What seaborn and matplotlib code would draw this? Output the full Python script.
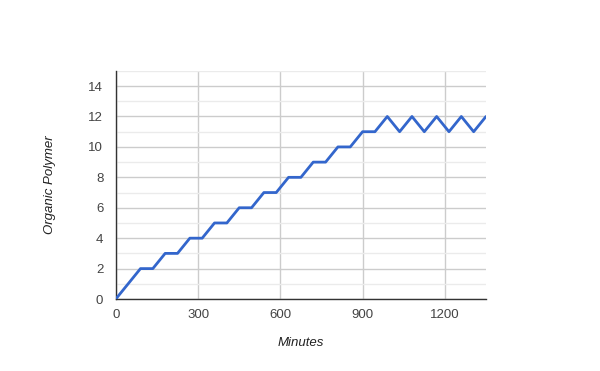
import matplotlib
matplotlib.use("Agg")
import matplotlib.pyplot as plt
import seaborn as sns
import pandas as pd
from matplotlib.ticker import MultipleLocator

minutes = [0, 45, 90, 135, 180, 225, 270, 315, 360, 405, 450, 495, 540, 585, 630, 675,
           720, 765, 810, 855, 900, 945, 990, 1035, 1080, 1125, 1170, 1215, 1260, 1305, 1350]
polymer = [0, 1, 2, 2, 3, 3, 4, 4, 5, 5, 6, 6, 7, 7, 8, 8,
           9, 9, 10, 10, 11, 11, 12, 11, 12, 11, 12, 11, 12, 11, 12]
x_ticks = [0, 300, 600, 900, 1200]
y_ticks = [0, 2, 4, 6, 8, 10, 12, 14]

df = pd.DataFrame({"Minutes": minutes, "Organic Polymer": polymer})

sns.set_theme(style="white")
plt.rcParams['font.family'] = ['Liberation Sans', 'DejaVu Sans']

fig = plt.figure(figsize=(6, 3.71), dpi=100)
ax = fig.add_axes([0.193, 0.194, 0.617, 0.615])

sns.lineplot(data=df, x="Minutes", y="Organic Polymer", ax=ax, color="#3366CC",
             linewidth=2, zorder=3)

ax.set_xlim(0, 1350)
ax.set_ylim(0, 15)
ax.set_xticks(x_ticks)
ax.set_yticks(y_ticks)
ax.yaxis.set_minor_locator(MultipleLocator(1))
ax.grid(True, which="major", color="#cccccc", linewidth=1, zorder=0)
ax.grid(True, which="minor", axis="y", color="#ebebeb", linewidth=1, zorder=0)
ax.set_axisbelow(True)

for s in ["top", "right"]:
    ax.spines[s].set_visible(False)
for s in ["left", "bottom"]:
    ax.spines[s].set_color("#333333")
    ax.spines[s].set_linewidth(1)

ax.tick_params(axis="both", which="both", length=0, labelsize=9.5, labelcolor="#444444")
ax.tick_params(axis="x", pad=7)
ax.tick_params(axis="y", pad=9)

ax.set_xlabel("Minutes", fontsize=9.5, style="italic", color="#222222", labelpad=12)
ax.set_ylabel("Organic Polymer", fontsize=9.5, style="italic", color="#222222", labelpad=23)

fig.savefig("out.png", dpi=100)
